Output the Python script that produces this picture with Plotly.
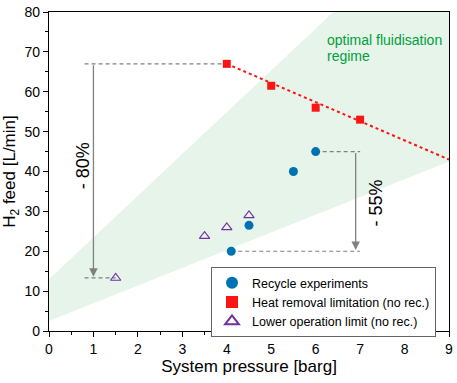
import plotly.graph_objects as go

# data
recycle_p = [4.1, 4.5, 5.5, 6.0]
recycle_h2 = [20.0, 26.5, 40.0, 45.0]

heat_p = [4.0, 5.0, 6.0, 7.0]
heat_h2 = [67.0, 61.5, 56.0, 53.0]

fit_p = [4.0, 9.0]
fit_h2 = [67.0, 43.0]

lower_p = [1.5, 3.5, 4.0, 4.5]
lower_h2 = [13.3, 23.8, 26.0, 29.0]

# optimal fluidisation regime polygon
regime_p = [0, 0, 6.4, 9, 9, 0]
regime_h2 = [2.5, 13, 80, 80, 42.5, 2.5]

grey = "rgb(128,128,128)"
font = "Liberation Sans, Arial, sans-serif"
dash = "4px,3px"

fig = go.Figure()

fig.add_trace(go.Scatter(
    x=regime_p, y=regime_h2, fill="toself", mode="lines",
    line=dict(width=0), fillcolor="rgb(230,244,234)",
    showlegend=False, hoverinfo="skip"
))

# guide lines
fig.add_trace(go.Scatter(x=[0.8, heat_p[0]], y=[heat_h2[0], heat_h2[0]], mode="lines",
                         line=dict(color=grey, width=1.2, dash=dash), showlegend=False))
fig.add_trace(go.Scatter(x=[0.8, lower_p[0]], y=[lower_h2[0], lower_h2[0]], mode="lines",
                         line=dict(color=grey, width=1.2, dash=dash), showlegend=False))
fig.add_trace(go.Scatter(x=[recycle_p[3], 7.0], y=[recycle_h2[3], recycle_h2[3]], mode="lines",
                         line=dict(color=grey, width=1.2, dash=dash), showlegend=False))
fig.add_trace(go.Scatter(x=[recycle_p[0], 7.0], y=[recycle_h2[0], recycle_h2[0]], mode="lines",
                         line=dict(color=grey, width=1.2, dash=dash), showlegend=False))

fig.add_trace(go.Scatter(x=fit_p, y=fit_h2, mode="lines",
                         line=dict(color="rgb(250,20,20)", width=2, dash="dot"), showlegend=False))

fig.add_trace(go.Scatter(
    x=recycle_p, y=recycle_h2, mode="markers", name="Recycle experiments",
    marker=dict(symbol="circle", size=9, color="rgb(0,114,178)")
))
fig.add_trace(go.Scatter(
    x=heat_p, y=heat_h2, mode="markers", name="Heat removal limitation (no rec.)",
    marker=dict(symbol="square", size=8, color="rgb(250,20,20)")
))
fig.add_trace(go.Scatter(
    x=lower_p, y=lower_h2, mode="markers", name="Lower operation limit (no rec.)",
    marker=dict(symbol="triangle-up-open", size=9, color="rgb(112,48,160)",
                line=dict(width=1.1))
))

# arrows
fig.add_annotation(x=1.0, y=lower_h2[0] + 0.3, ax=1.0, ay=heat_h2[0], xref="x", yref="y",
                   axref="x", ayref="y", text="", showarrow=True, arrowhead=2,
                   arrowsize=1.3, arrowwidth=1.3, arrowcolor=grey)
fig.add_annotation(x=6.9, y=recycle_h2[0] + 0.3, ax=6.9, ay=recycle_h2[3], xref="x", yref="y",
                   axref="x", ayref="y", text="", showarrow=True, arrowhead=2,
                   arrowsize=1.3, arrowwidth=1.3, arrowcolor=grey)

fig.add_annotation(x=0.76, y=41.5, text="- 80%", textangle=-90, showarrow=False,
                   font=dict(size=18, color="black", family=font))
fig.add_annotation(x=7.36, y=32, text="- 55%", textangle=-90, showarrow=False,
                   font=dict(size=18, color="black", family=font))
fig.add_annotation(x=6.22, y=73.0, text="optimal fluidisation", showarrow=False,
                   xanchor="left", font=dict(size=14, color="rgb(0,160,60)", family=font))
fig.add_annotation(x=6.22, y=68.9, text="regime", showarrow=False,
                   xanchor="left", font=dict(size=14, color="rgb(0,160,60)", family=font))

fig.update_layout(
    width=457, height=383,
    margin=dict(l=49, r=4, t=6, b=52),
    plot_bgcolor="white", paper_bgcolor="white",
    font=dict(family=font, size=14, color="black"),
    legend=dict(x=0.405, y=0.2, xanchor="left", yanchor="top",
                bordercolor="rgb(100,100,100)", borderwidth=1,
                font=dict(size=12.5), tracegroupgap=0, itemsizing="constant",
                bgcolor="white"),
)

fig.update_xaxes(
    range=[0, 9], dtick=1, showgrid=False, zeroline=False,
    showline=True, linecolor="black", linewidth=1.2, mirror=True,
    ticks="outside", ticklen=5, tickcolor="black", ticklabeloverflow="allow",
    minor=dict(dtick=0.5, ticks="outside", ticklen=3, tickcolor="black"),
    title=dict(text="System pressure [barg]", font=dict(size=17), standoff=4),
    tickfont=dict(size=14),
)
fig.update_yaxes(
    range=[0, 80], dtick=10, showgrid=False, zeroline=False,
    showline=True, linecolor="black", linewidth=1.2, mirror=True,
    ticks="outside", ticklen=5, tickcolor="black", ticklabeloverflow="allow",
    minor=dict(dtick=5, ticks="outside", ticklen=3, tickcolor="black"),
    title=dict(text="H<sub>2</sub> feed [L/min]", font=dict(size=17), standoff=4),
    tickfont=dict(size=14),
)

fig.write_html("out.html", config={"displayModeBar": False},
               post_script="document.body.style.margin='0';")
